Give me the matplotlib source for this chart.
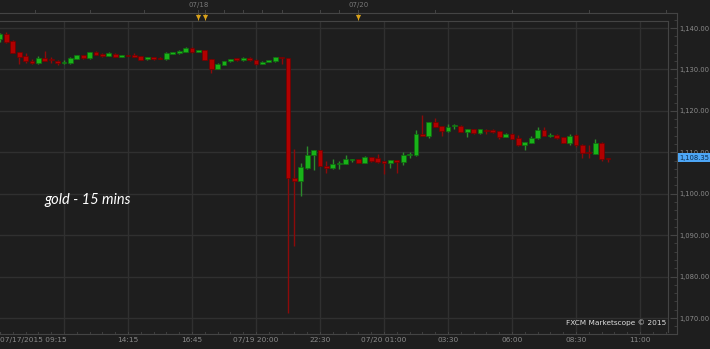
import matplotlib
matplotlib.use("Agg")
import matplotlib.pyplot as plt
import numpy as np

# ---------------- data (15-min gold candles) ----------------
opens = [1137.3, 1138.5, 1136.9, 1134.1, 1133.2, 1132.0, 1131.5, 1132.8, 1132.4, 1132.1,
         1131.6, 1131.6, 1132.6, 1133.4, 1132.7, 1134.1, 1133.8, 1133.3, 1133.8, 1133.1,
         1133.4, 1133.6, 1133.2, 1132.4, 1132.9, 1132.8, 1132.4, 1133.8, 1133.9, 1134.3,
         1135.2, 1134.2, 1134.7, 1132.4, 1130.2, 1131.1, 1132.0, 1132.7, 1132.2, 1132.8,
         1132.3, 1131.3, 1131.8, 1132.0, 1132.9, 1132.7, 1103.9, 1103.1, 1106.3, 1109.3,
         1110.5, 1106.8, 1106.2, 1107.1, 1107.2, 1108.2, 1108.3, 1107.5, 1108.8, 1108.6,
         1107.9, 1107.5, 1108.1, 1107.6, 1109.3, 1109.3, 1114.4, 1114.0, 1117.3, 1116.3,
         1115.2, 1116.3, 1116.4, 1114.9, 1115.6, 1114.6, 1115.5, 1115.3, 1115.1, 1113.8,
         1114.5, 1113.4, 1111.7, 1112.3, 1113.4, 1115.4, 1114.0, 1114.2, 1113.7, 1112.2,
         1114.1, 1111.8, 1110.0, 1109.7, 1112.2, 1108.6]
highs = [1138.8, 1139.0, 1137.0, 1134.2, 1133.9, 1132.4, 1133.2, 1134.4, 1133.1, 1132.3,
         1132.2, 1133.0, 1133.5, 1133.5, 1134.3, 1134.4, 1134.0, 1134.2, 1133.9, 1133.6,
         1133.6, 1133.9, 1133.3, 1133.0, 1133.0, 1132.9, 1134.1, 1134.2, 1134.8, 1135.3,
         1135.3, 1134.8, 1134.8, 1132.5, 1131.6, 1132.1, 1132.6, 1132.8, 1132.9, 1132.9,
         1132.4, 1132.0, 1132.3, 1133.0, 1133.0, 1132.8, 1110.7, 1107.3, 1111.6, 1110.6,
         1110.6, 1108.0, 1108.5, 1107.8, 1109.4, 1108.5, 1108.4, 1109.0, 1108.9, 1109.6,
         1108.0, 1108.2, 1108.2, 1110.1, 1110.1, 1115.5, 1119.0, 1117.4, 1118.3, 1116.4,
         1116.9, 1116.9, 1116.5, 1115.7, 1115.7, 1115.7, 1115.6, 1115.6, 1115.2, 1114.6,
         1114.6, 1114.2, 1112.6, 1114.0, 1116.1, 1116.0, 1114.6, 1114.3, 1113.8, 1114.5,
         1114.3, 1111.9, 1111.8, 1113.2, 1112.5, 1108.7]
lows = [1136.7, 1136.3, 1133.9, 1131.2, 1131.6, 1131.2, 1131.2, 1132.0, 1131.6, 1131.1,
        1131.4, 1131.3, 1132.4, 1132.5, 1132.5, 1133.5, 1133.0, 1133.2, 1133.0, 1133.0,
        1133.2, 1133.0, 1132.2, 1132.2, 1132.2, 1132.5, 1132.3, 1133.7, 1133.8, 1134.2,
        1133.9, 1134.1, 1132.2, 1129.1, 1130.0, 1131.0, 1131.9, 1132.0, 1132.1, 1132.0,
        1131.0, 1131.2, 1131.7, 1131.9, 1131.3, 1071.1, 1087.4, 1099.5, 1106.0, 1105.7,
        1106.6, 1104.9, 1105.9, 1105.9, 1107.1, 1107.6, 1107.3, 1107.4, 1107.7, 1107.3,
        1104.8, 1106.3, 1105.1, 1106.9, 1108.7, 1109.2, 1114.0, 1113.4, 1116.1, 1114.0,
        1114.8, 1115.7, 1114.8, 1113.8, 1114.5, 1114.5, 1114.5, 1114.6, 1113.2, 1113.7,
        1113.1, 1111.6, 1110.5, 1112.2, 1113.2, 1113.9, 1113.8, 1113.2, 1112.2, 1111.7,
        1111.3, 1108.7, 1108.6, 1109.6, 1107.8, 1107.6]
closes = [1138.5, 1136.7, 1134.0, 1133.1, 1132.0, 1131.5, 1132.8, 1132.1, 1132.2, 1131.5,
          1131.7, 1132.7, 1133.4, 1132.7, 1134.1, 1133.6, 1133.2, 1133.9, 1133.1, 1133.5,
          1133.3, 1133.1, 1132.3, 1132.9, 1132.6, 1132.6, 1134.0, 1134.1, 1134.5, 1135.2,
          1134.3, 1134.7, 1132.3, 1130.1, 1131.2, 1132.0, 1132.5, 1132.2, 1132.8, 1132.2,
          1131.4, 1131.9, 1132.2, 1132.9, 1132.7, 1103.9, 1103.1, 1106.4, 1109.4, 1110.5,
          1106.7, 1106.2, 1107.2, 1107.3, 1108.3, 1108.3, 1107.4, 1108.9, 1108.0, 1107.6,
          1107.5, 1108.1, 1107.6, 1109.3, 1109.5, 1114.4, 1113.9, 1117.3, 1116.2, 1115.2,
          1116.1, 1116.5, 1114.9, 1115.6, 1114.6, 1115.6, 1115.1, 1114.9, 1113.8, 1114.5,
          1113.2, 1111.7, 1112.5, 1113.5, 1115.4, 1114.0, 1114.2, 1113.5, 1112.3, 1114.0,
          1111.7, 1109.8, 1109.9, 1112.2, 1108.4, 1108.35]

x_tick_pos = [0, 20, 30, 40, 50, 60, 70, 80, 90, 100]
x_tick_labels = ["07/17/2015 09:15", "14:15", "16:45", "07/19 20:00", "22:30",
                 "07/20 01:00", "03:30", "06:00", "08:30", "11:00"]
y_ticks = [1070, 1080, 1090, 1100, 1110, 1120, 1130, 1140]
date_marks = [31, 56]
date_labels = ["07/18", "07/20"]
event_marks = [31, 32, 56]
top_minor = [5.5, 14, 22.5, 31, 32, 35, 38, 41, 44, 50, 53, 56, 68, 80, 92, 104]
title_text = "gold - 15 mins"
last_price = closes[-1]

# ---------------- layout ----------------
W, H = 710, 349
BG = "#1e1e1e"
GRID = "#303030"
FRAME = "#444444"
TXT = "#8a8a8a"
PX_PER_BAR = 6.4
PX_PER_USD = 4.143

def price_at(py):
    return 1140 - (py - 28) / PX_PER_USD

fig = plt.figure(figsize=(W / 100, H / 100), dpi=100, facecolor=BG)

# outer frame axes (ticks, labels)
ox0, ox1, oy0, oy1 = 0, 677, 13, 334
axo = fig.add_axes([ox0 / W, 1 - oy1 / H, (ox1 - ox0) / W, (oy1 - oy0) / H])
axo.set_facecolor(BG)
axo.set_xlim(0, ox1 / PX_PER_BAR)
axo.set_ylim(price_at(oy1), price_at(oy0))
axo.spines["left"].set_visible(False)
for s in ["right", "top", "bottom"]:
    axo.spines[s].set_color(FRAME)
    axo.spines[s].set_linewidth(0.8)
axo.yaxis.tick_right()
axo.set_yticks(y_ticks)
axo.set_yticklabels([f"{v:,.2f}" for v in y_ticks])
axo.set_yticks(np.arange(1068, 1143, 2), minor=True)
axo.tick_params(axis="y", which="major", direction="in", length=5, color=FRAME,
                labelcolor=TXT, labelsize=4.9, pad=1.5)
axo.tick_params(axis="y", which="minor", direction="in", length=2.5, color=FRAME)
axo.set_xticks(x_tick_pos)
axo.set_xticklabels(x_tick_labels)
for lbl in axo.get_xticklabels():
    lbl.set_horizontalalignment("center")
axo.get_xticklabels()[0].set_horizontalalignment("left")
axo.set_xticks(np.arange(0, 106, 2), minor=True)
axo.tick_params(axis="x", which="major", direction="in", length=6, color=FRAME,
                labelcolor=TXT, labelsize=5.3, pad=2)
axo.tick_params(axis="x", which="minor", direction="in", length=3, color=FRAME)

# top strip ticks and labels
for t in top_minor:
    axo.plot([t, t], [price_at(13), price_at(10)], color=FRAME, lw=0.7, clip_on=False)
for t, lab in zip(date_marks, date_labels):
    axo.text(t, price_at(5), lab, color="#777777", fontsize=5.0, ha="center",
             va="center", clip_on=False)
axo.scatter(event_marks, [price_at(16.5)] * len(event_marks), marker="v", s=14,
            color="#d9a21b", zorder=6, clip_on=False, linewidths=0)
axo.vlines(event_marks, price_at(19.5), price_at(14), color="#d9a21b", lw=0.7, zorder=6)

# inner plot axes
ix1, iy0, iy1 = 668, 21, 332
ax = fig.add_axes([0, 1 - iy1 / H, ix1 / W, (iy1 - iy0) / H])
ax.set_facecolor(BG)
ax.set_xlim(0, ix1 / PX_PER_BAR)
ax.set_ylim(price_at(iy1), price_at(iy0))
for s in ["left", "bottom"]:
    ax.spines[s].set_visible(False)
for s in ["right", "top"]:
    ax.spines[s].set_color(FRAME)
    ax.spines[s].set_linewidth(0.8)
ax.set_xticks([])
ax.set_yticks([])
for yv in y_ticks:
    ax.axhline(yv, color=GRID, lw=1.0, zorder=0)
for xv in range(10, 101, 10):
    ax.axvline(xv, color=GRID, lw=1.0, zorder=0)

o = np.array(opens); h = np.array(highs); l = np.array(lows); c = np.array(closes)
idx = np.arange(len(o))
up = c >= o
GREEN, GREEN_E, GREEN_W = "#19b319", "#0e6e0e", "#2c8a2c"
RED, RED_E, RED_W = "#b00000", "#720000", "#8c0a0a"
ax.vlines(idx[up], l[up], h[up], color=GREEN_W, lw=1.0, zorder=2)
ax.vlines(idx[~up], l[~up], h[~up], color=RED_W, lw=1.0, zorder=2)
body_lo = np.minimum(o, c)
body_h = np.maximum(np.abs(c - o), 0.22)
ax.bar(idx[up], body_h[up], bottom=body_lo[up], width=0.78, color=GREEN,
       edgecolor=GREEN_E, linewidth=0.5, zorder=3)
ax.bar(idx[~up], body_h[~up], bottom=body_lo[~up], width=0.78, color=RED,
       edgecolor=RED_E, linewidth=0.5, zorder=3)

ax.text(44 / PX_PER_BAR, price_at(200), title_text, color="white", fontsize=10.5,
        fontstyle="italic", family="Lato", ha="left", va="center")
ax.text(666 / PX_PER_BAR, price_at(322.5), "FXCM Marketscope \u00a9 2015", color="#dddddd",
        fontsize=5.3, ha="right", va="center")

# last price box
fig.text(694 / W, 1 - (28 + (1140 - last_price) * PX_PER_USD - 1.5) / H,
         f"{last_price:,.2f}", color="#0b2a4a", fontsize=4.9, ha="center", va="center",
         bbox=dict(boxstyle="square,pad=0.2", fc="#4da6f5", ec="none"))

fig.savefig("out.png", dpi=100, facecolor=BG)
